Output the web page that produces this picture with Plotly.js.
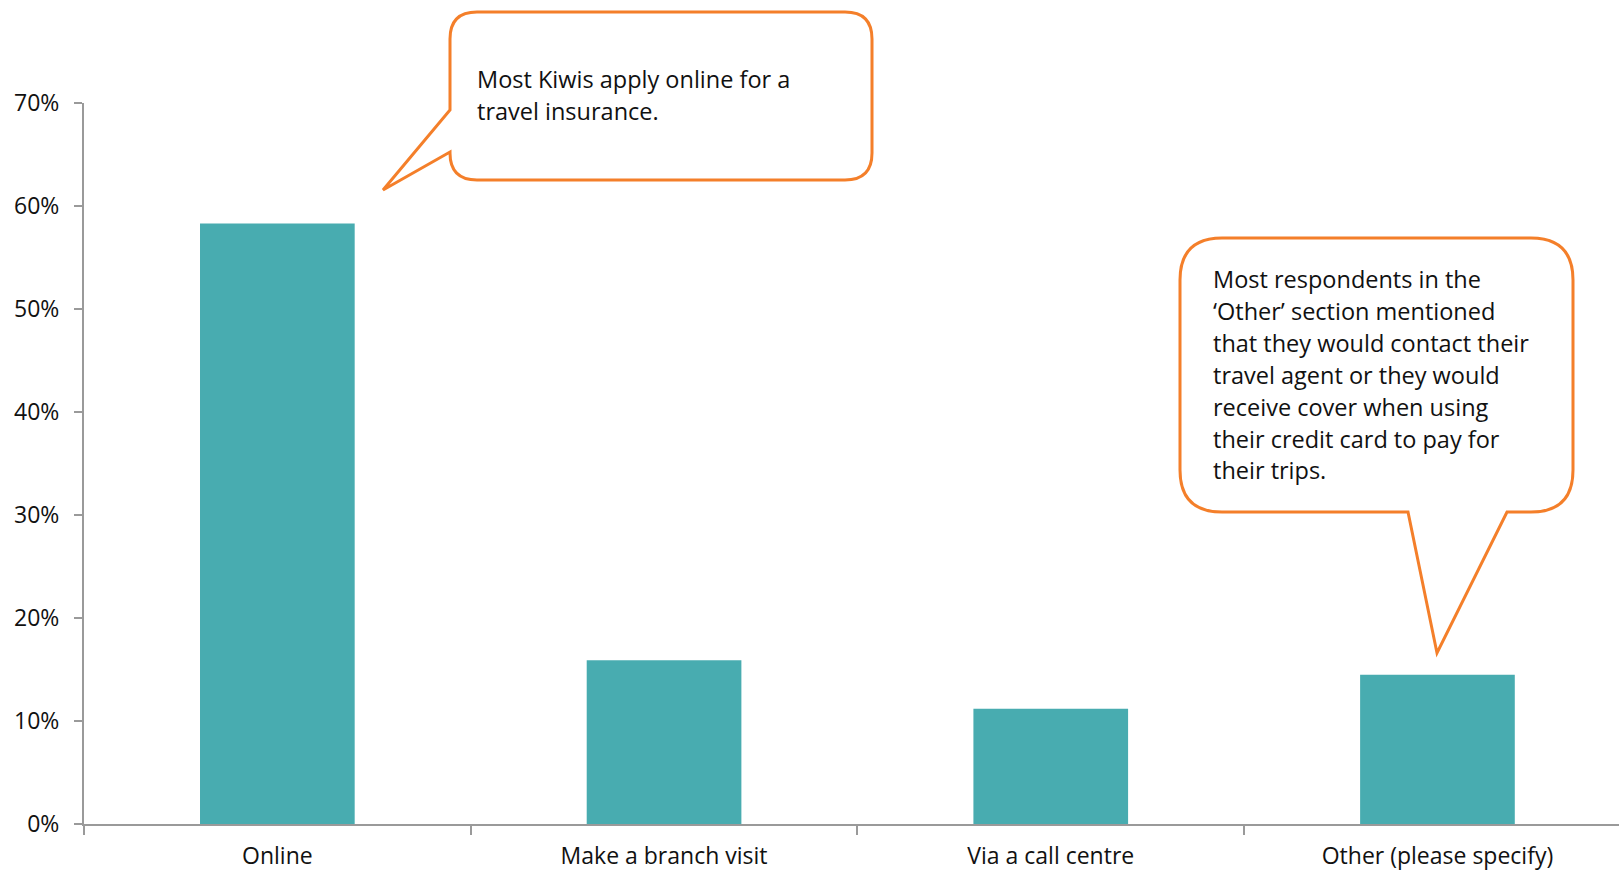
<!DOCTYPE html>
<html>
<head>
<meta charset="utf-8">
<script src="https://cdn.plot.ly/plotly-3.0.1.min.js"></script>
<style>html,body{margin:0;padding:0;background:#fff}#chart{width:1619px;height:871px}</style>
</head>
<body>
<div id="chart"></div>
<script>
// ---- data ----
const categories = ['Online', 'Make a branch visit', 'Via a call centre', 'Other (please specify)'];
const values = [58.3, 15.9, 11.2, 14.5];
const yTickStep = 10;
const yMax = 70;
const callout1Lines = ['Most Kiwis apply online for a', 'travel insurance.'];
const callout2Lines = ['Most respondents in the', '\u2018Other\u2019 section mentioned', 'that they would contact their',
  'travel agent or they would', 'receive cover when using', 'their credit card to pay for', 'their trips.'];

// ---- layout geometry (pixels) ----
const W = 1619, H = 871;
const ML = 84, MT = 103, MB = 47, MR = 0;
const PW = W - ML - MR, PH = H - MT - MB;
const px = x => (x - ML) / PW;
const py = y => (H - MB - y) / PH;
const FONT = 'Open Sans, Noto Sans, sans-serif';
const ORANGE = '#f47f2a';

function roundedPath(pts) {
  return pts.map(p => {
    if (p[0] === 'Q') return 'Q' + px(p[1]) + ',' + py(p[2]) + ' ' + px(p[3]) + ',' + py(p[4]);
    if (p[0] === 'Z') return 'Z';
    return p[0] + px(p[1]) + ',' + py(p[2]);
  }).join(' ');
}

function box(L, T, R, B, r, pointerCmds, side) {
  const c = [];
  c.push(['M', L + r, T]);
  c.push(['L', R - r, T]);
  c.push(['Q', R, T, R, T + r]);
  c.push(['L', R, B - r]);
  c.push(['Q', R, B, R - r, B]);
  if (side === 'bottom') pointerCmds.forEach(p => c.push(p));
  c.push(['L', L + r, B]);
  c.push(['Q', L, B, L, B - r]);
  if (side === 'left') pointerCmds.forEach(p => c.push(p));
  c.push(['L', L, T + r]);
  c.push(['Q', L, T, L + r, T]);
  c.push(['Z']);
  return roundedPath(c);
}

const path1 = box(450, 12, 872, 180, 27, [['L', 450, 152], ['L', 383, 190], ['L', 450, 110]], 'left');
const path2 = box(1180, 238, 1573, 512, 42, [['L', 1507, 512], ['L', 1437, 653], ['L', 1408, 512]], 'bottom');

const annotations = [];
callout1Lines.forEach((t, i) => annotations.push({
  xref: 'paper', yref: 'paper', x: px(475), y: py(79 + i * 31.6), xanchor: 'left', yanchor: 'middle',
  text: t, showarrow: false, align: 'left', font: {family: FONT, size: 23.5, color: '#111'}
}));
callout2Lines.forEach((t, i) => annotations.push({
  xref: 'paper', yref: 'paper', x: px(1211), y: py(279 + i * 31.9), xanchor: 'left', yanchor: 'middle',
  text: t, showarrow: false, align: 'left', font: {family: FONT, size: 23.5, color: '#111'}
}));

const trace = {
  type: 'bar', x: categories, y: values,
  marker: {color: '#48acb0', line: {width: 0}},
  hoverinfo: 'skip'
};

const layout = {
  width: W, height: H,
  margin: {l: ML, r: MR, t: MT, b: MB, pad: 0},
  paper_bgcolor: '#fff', plot_bgcolor: '#fff',
  showlegend: false,
  bargap: 0.6,
  font: {family: FONT, size: 23, color: '#111'},
  xaxis: {
    type: 'category', range: [-0.5, -0.5 + PW / 386.7],
    showline: true, linecolor: '#9a9a9a', linewidth: 2,
    ticks: 'outside', tickson: 'boundaries', ticklen: 9, tickcolor: '#9a9a9a', tickwidth: 2,
    showgrid: false, zeroline: false, ticklabelstandoff: 10,
    tickfont: {family: FONT, size: 23, color: '#111'}
  },
  yaxis: {
    range: [0, yMax], tickmode: 'linear', tick0: 0, dtick: yTickStep, ticksuffix: '%', showticksuffix: 'all',
    showline: true, linecolor: '#9a9a9a', linewidth: 2,
    ticks: 'outside', ticklen: 8, tickcolor: '#9a9a9a', tickwidth: 2,
    showgrid: false, zeroline: false, ticklabelstandoff: 10,
    tickfont: {family: FONT, size: 23, color: '#111'}
  },
  shapes: [
    {type: 'path', xref: 'paper', yref: 'paper', path: path1, line: {color: ORANGE, width: 3}, fillcolor: '#fff', layer: 'above'},
    {type: 'path', xref: 'paper', yref: 'paper', path: path2, line: {color: ORANGE, width: 3}, fillcolor: '#fff', layer: 'above'}
  ],
  annotations: annotations
};

Plotly.newPlot('chart', [trace], layout, {displayModeBar: false, staticPlot: true});
</script>
</body>
</html>
